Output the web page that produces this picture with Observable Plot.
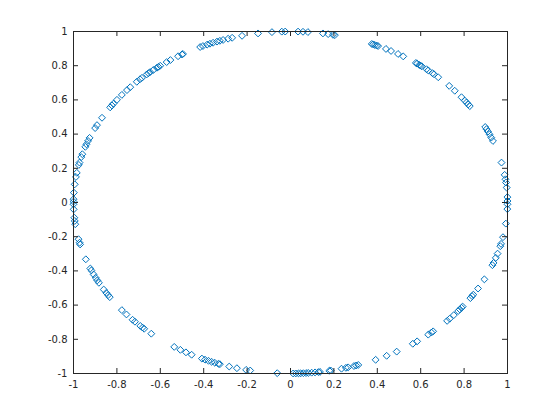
<!DOCTYPE html>
<html>
<head>
<meta charset="utf-8">
<script src="https://cdn.jsdelivr.net/npm/d3@7"></script>
<script src="https://cdn.jsdelivr.net/npm/@observablehq/plot@0.6"></script>
<style>
  html, body { margin: 0; padding: 0; background: #ffffff; }
  #chart svg { display: block; }
</style>
</head>
<body>
<div id="chart"></div>
<script>
// Angles (degrees) of each marker on the unit circle
const angleDeg = [
  0.5, 1.8, 5.0, 6.7, 7.8, 9.3, 13.5, 21.1, 22.3, 23.5, 24.5, 25.4, 26.2,
  34.3, 35.0, 35.8, 36.6, 38.0, 40.8, 43.0, 47.1, 48.6, 49.1, 50.6, 51.2,
  52.8, 53.2, 53.6, 54.3, 54.7, 58.7, 60.3, 62.4, 63.9, 66.2, 66.6, 67.1, 67.6, 68.0,
  78.2, 78.7, 80.0, 81.4, 85.4, 86.7, 88.0, 91.4, 92.3, 94.9, 98.6, 102.9,
  105.6, 106.7, 108.1, 109.0, 109.8, 110.9, 111.8, 112.6, 113.8, 114.6,
  119.7, 120.0, 121.2, 123.6,
  124.8, 126.9, 127.5, 128.0, 129.2, 130.3, 130.9, 131.5, 133.2, 133.9, 135.1,
  137.6, 138.9, 141.0, 143.1, 144.7, 145.4, 146.2, 150.3, 153.1, 154.2, 157.8,
  158.9, 160.1, 161.0, 163.6, 164.6, 166.5, 167.3, 170.0, 171.4, 173.9, 176.7,
  178.9, 179.7, 180.6, 182.3, 185.1, 186.2, 187.3, 192.4, 193.6, 194.2,
  199.4, 202.7, 203.4, 204.9, 206.1, 207.1, 208.0, 210.6, 211.9, 212.8, 213.6,
  219.0, 220.9, 223.3, 224.2, 226.2, 227.0, 227.6, 230.1, 237.6, 239.5,
  241.2, 242.9, 245.9, 246.8, 247.8, 248.7, 249.6, 250.6, 251.0, 253.6, 255.7,
  258.2, 259.3, 266.5,
  270.7, 271.4, 272.1, 272.7, 273.4, 274.1, 274.7, 275.6, 276.5, 277.4, 277.8,
  280.3, 280.7, 283.6, 284.8, 285.4, 287.0, 287.6, 288.2, 293.1, 296.3, 299.3,
  304.3, 305.7, 309.4, 310.5, 311.1, 316.2, 317.2, 318.8, 320.6, 321.3, 322.0,
  322.5, 326.0, 326.8, 327.4, 329.8, 333.3, 338.5, 339.3, 341.1, 342.6, 345.2,
  346.0, 348.3, 352.9, 357.8, 359.4
];
const xTicks = [-1, -0.8, -0.6, -0.4, -0.2, 0, 0.2, 0.4, 0.6, 0.8, 1];
const yTicks = [-1, -0.8, -0.6, -0.4, -0.2, 0, 0.2, 0.4, 0.6, 0.8, 1];

const points = angleDeg.map(a => ({
  x: Math.cos(a * Math.PI / 180),
  y: Math.sin(a * Math.PI / 180)
}));

const W = 560, H = 420;
const mL = 73, mR = 53, mT = 31, mB = 47;
const innerW = W - mL - mR, innerH = H - mT - mB;
const tick = 5;
const axisColor = "#262626";
const fmt = d => String(d);

const chart = Plot.plot({
  width: W,
  height: H,
  marginLeft: mL,
  marginRight: mR,
  marginTop: mT,
  marginBottom: mB,
  style: { fontFamily: "'DejaVu Sans', sans-serif", fontSize: "10px", color: axisColor, background: "#ffffff" },
  x: { domain: [-1, 1] },
  y: { domain: [-1, 1] },
  marks: [
    Plot.dot(points, { x: "x", y: "y", symbol: "diamond2", r: 3.1, stroke: "#0072BD", fill: "none", strokeWidth: 1 }),
    Plot.axisX({ anchor: "bottom", ticks: xTicks, tickSize: 0, tickPadding: 7, tickFormat: fmt, label: null, fill: axisColor }),
    Plot.axisY({ anchor: "left", ticks: yTicks, tickSize: 0, tickPadding: 6, tickFormat: fmt, label: null, fill: axisColor }),
    // inward ticks on all four sides
    Plot.tickX(xTicks, { x: d => d, insetTop: innerH - tick, stroke: axisColor }),
    Plot.tickX(xTicks, { x: d => d, insetBottom: innerH - tick, stroke: axisColor }),
    Plot.tickY(yTicks, { y: d => d, insetRight: innerW - tick, stroke: axisColor }),
    Plot.tickY(yTicks, { y: d => d, insetLeft: innerW - tick, stroke: axisColor }),
    Plot.frame({ stroke: axisColor, strokeWidth: 1 })
  ]
});
document.getElementById("chart").appendChild(chart);
</script>
</body>
</html>
